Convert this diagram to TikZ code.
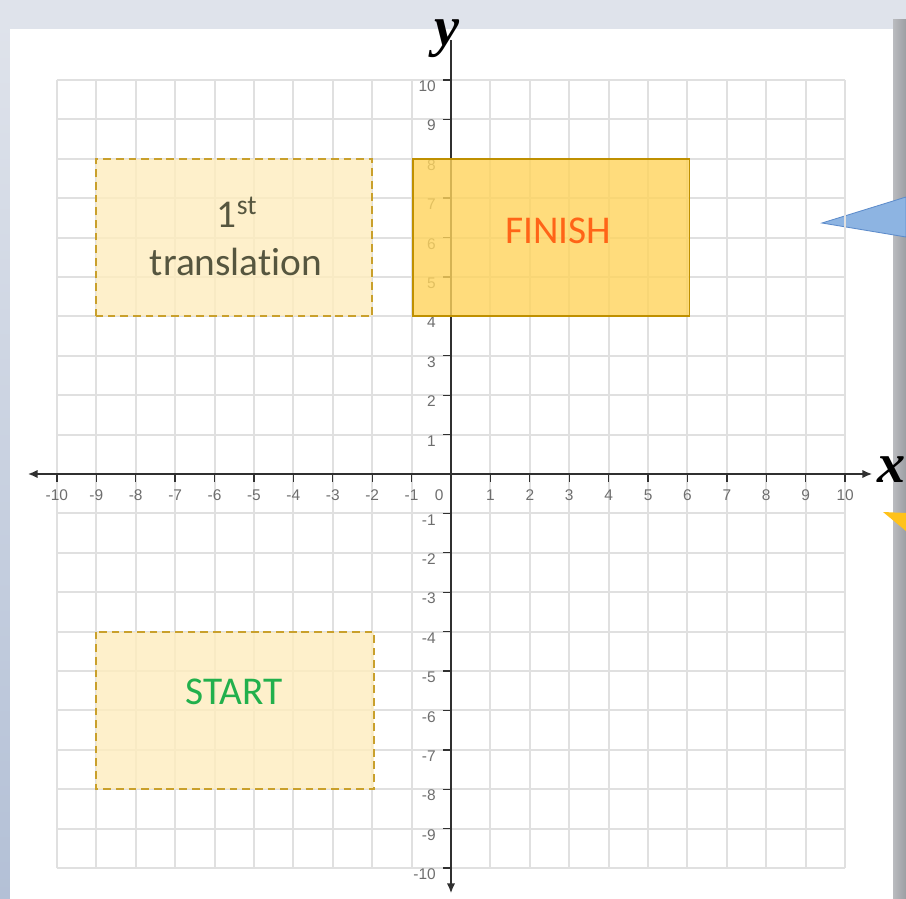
\documentclass[tikz,border=0pt]{standalone}
\usepackage{fontspec}
\setmainfont{Carlito}[Ligatures=NoCommon]
\newfontfamily\tickfont{Liberation Sans}
\newfontfamily\axisfont{Liberation Serif}
\usetikzlibrary{arrows.meta}
\definecolor{bgtop}{HTML}{DFE3EB}
\definecolor{bgleft}{HTML}{B3C0D6}
\definecolor{bgright}{HTML}{9C9EA3}
\definecolor{gridc}{HTML}{E0E0E0}
\definecolor{axisc}{HTML}{303030}
\definecolor{tickc}{HTML}{6E6E6E}
\definecolor{ghostfill}{HTML}{FEEDBE}
\definecolor{ghostline}{HTML}{C9A02C}
\definecolor{finfill}{HTML}{FFD45C}
\definecolor{finline}{HTML}{BF9000}
\definecolor{transc}{HTML}{56563F}
\definecolor{finc}{HTML}{FF6417}
\definecolor{startc}{HTML}{22B04C}
\definecolor{callblue}{HTML}{8DB4E2}
\definecolor{callblueline}{HTML}{5D8CCB}
\definecolor{callyellow}{HTML}{FFC21A}
\begin{document}
\begin{tikzpicture}[x=0.025cm,y=-0.025cm,
  gridline/.style={draw=gridc,line width=1.4pt},
  axisline/.style={draw=axisc,line width=1.9pt},
  tickmark/.style={draw=axisc,line width=0.9pt},
  ticklabel/.style={font=\tickfont\fontsize{11}{11}\selectfont,text=tickc,inner sep=0pt},
  ghostbox/.style={draw=ghostline,line width=1.4pt,dash pattern=on 5.5pt off 3.5pt,fill=ghostfill,fill opacity=0.8},
  finbox/.style={draw=finline,line width=1.3pt,fill=finfill,fill opacity=0.8},
  boxtext/.style={font=\fontsize{28}{30}\selectfont,inner sep=0pt},
  axislabel/.style={font=\axisfont\bfseries\itshape\fontsize{40}{40}\selectfont,text=black,inner sep=0pt}
]
\useasboundingbox (0,0) rectangle (906,899);
% background
\fill[bgtop] (0,0) rectangle (906,899);
\shade[top color=bgtop,bottom color=bgleft] (0,20) rectangle (10,899);
\shade[left color=bgright!70!white,right color=bgright] (893,20) rectangle (906,899);
\fill[white] (10,29) rectangle (893,899);
% callout pointers
\filldraw[fill=callblue,draw=callblueline,line width=0.6pt] (822,223) -- (906,197) -- (906,237) -- cycle;
\fill[callyellow] (883,512) -- (906,513) -- (906,531) -- cycle;
\begin{scope}[shift={(451,474)},x=0.985cm,y=0.985cm]
  % grid
  \foreach \i in {-10,...,10} {
    \draw[gridline] (\i,-10) -- (\i,10);
    \draw[gridline] (-10,\i) -- (10,\i);
  }
  % axes
  \coordinate (xl) at (-10.74,0);
  \coordinate (xr) at (10.69,0);
  \coordinate (yt) at (0,11.0);
  \coordinate (yb) at (0,-10.64);
  \draw[axisline,{Latex[length=7pt,width=6pt]}-{Latex[length=7pt,width=6pt]}] (xl) -- (xr);
  \draw[axisline,-{Latex[length=7pt,width=6pt]}] (yt) -- (yb);
  % ticks and labels
  \foreach \i in {-10,...,-1,1,2,...,10} {
    \draw[tickmark] (\i,0) -- (\i,-0.2);
    \node[ticklabel] (xt\i) at (\i,-0.53) {\i};
    \draw[tickmark] (0,\i) -- (-0.2,\i);
    \node[ticklabel,anchor=east] (yl\i) at (-0.38,\i-0.16) {\i};
  }
  \node[ticklabel] (zero) at (-0.3,-0.53) {0};
  % rectangles
  \draw[ghostbox] (-9,4) rectangle (-2,8);
  \draw[ghostbox] (-9,-4) rectangle (-1.95,-8);
  \draw[finbox] (-0.97,4) rectangle (6.05,8);
\end{scope}
% texts
\node[boxtext,text=transc] (first) at (237,212) {1\textsuperscript{st}};
\node[boxtext,text=transc] (trans) at (236,262) {translation};
\node[boxtext,text=finc] (finish) at (558,231) {FINISH};
\node[boxtext,text=startc] (start) at (234,692) {START};
\node[axislabel,anchor=base] (ylab) at (447,46) {y};
\node[axislabel,anchor=base west] (xlab) at (877,482) {x};
\end{tikzpicture}
\end{document}
